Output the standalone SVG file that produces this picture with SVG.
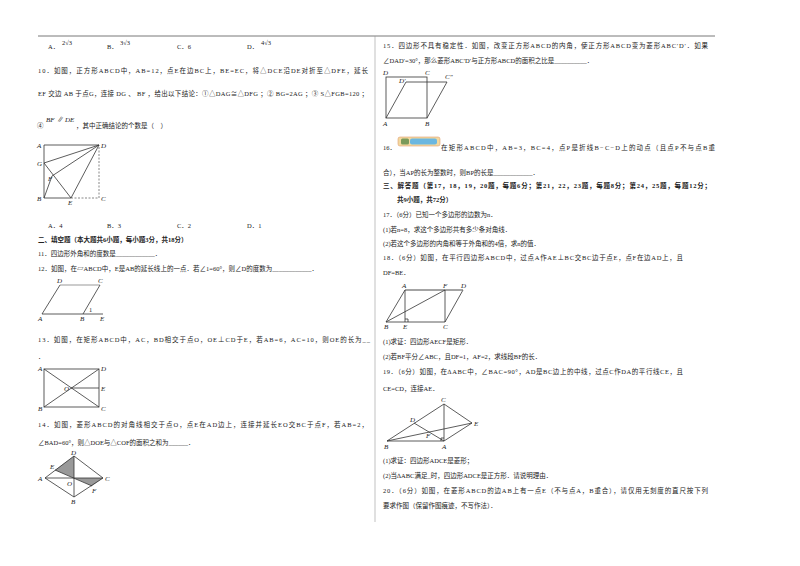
<svg xmlns="http://www.w3.org/2000/svg" width="800" height="566" viewBox="0 0 800 566">
<style>
text{font-family:"Liberation Serif","Noto Sans CJK SC",serif;font-size:6.5px;fill:#222}
.b{font-weight:bold}
.l{font-size:7px;font-style:italic}
.s{stroke:#333;stroke-width:0.8;fill:none}
.d{stroke:#555;stroke-width:0.7;fill:none;stroke-dasharray:2 1.5}
.g{stroke:#999;stroke-width:1.2;fill:none}
</style>
<rect width="800" height="566" fill="#fff"/>
<line x1="38" y1="36" x2="715" y2="36" stroke="#555" stroke-width="0.8"/>
<line x1="375" y1="36" x2="375" y2="522" stroke="#999" stroke-width="0.6"/>
<g id="left-text">
<text x="48" y="49">A．</text><text x="62" y="45">2√3</text>
<text x="107" y="49">B．</text><text x="120" y="45">3√3</text>
<text x="177" y="49">C．6</text>
<text x="247" y="49">D．</text><text x="261" y="45">4√3</text>
<text x="38" y="73" textLength="330">10．如图，正方形ABCD中，AB=12，点E在边BC上，BE=EC，将△DCE沿DE对折至△DFE，延长</text>
<text x="38" y="96" textLength="330">EF 交边 AB 于点G，连接 DG 、 BF ，给出以下结论：①△DAG≅△DFG ；② BG=2AG ；③ S△FGB=120 ；</text>
<text x="37" y="128">④</text><text x="46" y="122" class="l">BF ∥ DE</text><text x="76" y="128">，其中正确结论的个数是（　）</text>
<text x="48" y="228">A．4</text><text x="107" y="228">B．3</text><text x="177" y="228">C．2</text><text x="247" y="228">D．1</text>
<text x="38" y="242" class="b">二、填空题（本大题共6小题，每小题3分，共18分）</text>
<text x="38" y="256">11．四边形外角和的度数是____________．</text>
<text x="38" y="271" textLength="280">12．如图，在▱ABCD中，E是AB的延长线上的一点．若∠1=60°，则∠D的度数为____________．</text>
<text x="38" y="342" textLength="332">13．如图，在矩形ABCD中，AC，BD相交于点O，OE⊥CD于E，若AB=6，AC=10，则OE的长为__</text>
<text x="38" y="359">．</text>
<text x="38" y="427" textLength="330">14．如图，菱形ABCD的对角线相交于点O，点E在AD边上，连接并延长EO交BC于点F，若AB=2，</text>
<text x="38" y="445">∠BAD=60°，则△DOE与△COF的面积之和为______．</text>
</g>
<g id="fig10">
<polyline class="s" points="99,145 44,145 44,198 71,198"/>
<polyline class="d" points="71,198 99,198 99,145"/>
<line class="s" x1="99" y1="145" x2="44" y2="163"/>
<line class="s" x1="99" y1="145" x2="52" y2="176"/>
<line class="s" x1="99" y1="145" x2="71" y2="198"/>
<line class="s" x1="44" y1="163" x2="71" y2="198"/>
<line class="s" x1="44" y1="198" x2="52" y2="176"/>
<text class="l" x="37" y="148">A</text><text class="l" x="101" y="148">D</text><text class="l" x="37" y="166">G</text><text class="l" x="48" y="181">F</text><text class="l" x="37" y="201">B</text><text class="l" x="68" y="205">E</text><text class="l" x="101" y="201">C</text>
</g>
<g id="fig12">
<line class="g" x1="60" y1="285" x2="100" y2="285"/>
<line class="s" x1="60" y1="285" x2="42" y2="314"/>
<line class="s" x1="100" y1="285" x2="83" y2="314"/>
<line class="s" x1="42" y1="314" x2="103" y2="314"/>
<text class="l" x="57" y="283">D</text><text class="l" x="98" y="283">C</text><text class="l" x="38" y="321">A</text><text class="l" x="80" y="321">B</text><text class="l" x="100" y="321">E</text><text x="89" y="312">1</text>
</g>
<g id="fig13">
<rect class="s" x="44" y="369" width="55" height="38"/>
<line class="s" x1="44" y1="369" x2="99" y2="407"/><line class="s" x1="44" y1="407" x2="99" y2="369"/>
<line class="s" x1="71" y1="388" x2="99" y2="388"/>
<text class="l" x="38" y="371">A</text><text class="l" x="101" y="371">D</text><text class="l" x="64" y="391">O</text><text class="l" x="101" y="391">E</text><text class="l" x="38" y="411">B</text><text class="l" x="101" y="411">C</text>
</g>
<g id="fig14">
<polygon points="74,478 74,456 55,470" fill="#999"/>
<polygon points="74,478 103,478 92,486" fill="#999"/>
<polygon class="s" points="45,478 74,456 103,478 74,497"/>
<line class="s" x1="45" y1="478" x2="103" y2="478"/><line class="s" x1="74" y1="456" x2="74" y2="497"/>
<line class="s" x1="55" y1="470" x2="92" y2="486"/>
<text class="l" x="71" y="455">D</text><text class="l" x="50" y="469">E</text><text class="l" x="38" y="481">A</text><text class="l" x="67" y="486">O</text><text class="l" x="105" y="481">C</text><text class="l" x="92" y="493">F</text><text class="l" x="71" y="504">B</text>
</g>
<g id="right-text">
<text x="383" y="48" textLength="325">15．四边形不具有稳定性．如图，改变正方形ABCD的内角，使正方形ABCD变为菱形ABC′D′．如果</text>
<text x="383" y="63">∠DAD′=30°，那么菱形ABC′D′与正方形ABCD的面积之比是__________．</text>
<text x="383" y="150">16．</text>
<rect x="398" y="137" width="42" height="9" rx="2" fill="#f3d9a0" stroke="#e0a070" stroke-width="0.6"/>
<rect x="401" y="138.5" width="8" height="6" rx="1.5" fill="#7a9a5a"/>
<rect x="410" y="138.5" width="27" height="6" rx="2" fill="#6bb7e0"/>
<text x="441" y="150" textLength="274">在矩形ABCD中，AB=3，BC=4，点P是折线B−C−D上的动点（且点P不与点B重</text>
<text x="383" y="175">合），当AP的长为整数时，则BP的长是____________．</text>
<text x="383" y="188" class="b" textLength="328">三、解答题（第17，18，19，20题，每题6分；第21，22，23题，每题8分；第24，25题，每题12分；</text>
<text x="397" y="202" class="b">共9小题，共72分）</text>
<text x="383" y="217">17．（6分）已知一个多边形的边数为n．</text>
<text x="383" y="232">(1)若n=8，求这个多边形共有多少条对角线．</text>
<text x="383" y="246">(2)若这个多边形的内角和等于外角和的4倍，求n的值．</text>
<text x="383" y="260" textLength="300">18．（6分）如图，在平行四边形ABCD中，过点A作AE⊥BC交BC边于点E，点F在边AD上，且</text>
<text x="383" y="275">DF=BE．</text>
<text x="383" y="344">(1)求证：四边形AECF是矩形．</text>
<text x="383" y="359">(2)若BF平分∠ABC，且DF=1，AF=2，求线段BF的长．</text>
<text x="383" y="374" textLength="300">19．（6分）如图，在∆ABC中，∠BAC=90°，AD是BC边上的中线，过点C作DA的平行线CE，且</text>
<text x="383" y="391">CE=CD，连接AE．</text>
<text x="383" y="463">(1)求证：四边形ADCE是菱形；</text>
<text x="383" y="478">(2)当∆ABC满足_时，四边形ADCE是正方形．请说明理由．</text>
<text x="383" y="493" textLength="325">20．（6分）如图，在菱形ABCD的边AB上有一点E（不与点A，B重合），请仅用无刻度的直尺按下列</text>
<text x="383" y="508">要求作图（保留作图痕迹，不写作法）．</text>
</g>
<g id="fig15">
<rect class="s" x="386" y="77" width="41" height="41"/>
<polyline class="s" points="386,118 406,82 447,82 427,118"/>
<text class="l" x="383" y="75">D</text><text class="l" x="425" y="75">C</text><text class="l" x="399" y="83">D′</text><text class="l" x="445" y="79">C″</text><text class="l" x="383" y="126">A</text><text class="l" x="425" y="126">B</text>
</g>
<g id="fig18">
<polygon class="s" points="405,290 463,290 445,322 386,322"/>
<line class="g" x1="405" y1="290" x2="463" y2="290"/>
<line class="s" x1="405" y1="290" x2="405" y2="322"/><line class="s" x1="445" y1="290" x2="445" y2="322"/><line class="s" x1="386" y1="322" x2="445" y2="290"/>
<polyline class="s" points="405,319 408,319 408,322"/>
<text class="l" x="402" y="288">A</text><text class="l" x="443" y="288">F</text><text class="l" x="461" y="288">D</text><text class="l" x="384" y="329">B</text><text class="l" x="403" y="329">E</text><text class="l" x="443" y="329">C</text>
</g>
<g id="fig19">
<polyline class="s" points="387,441 444,404 472,423 444,441 387,441"/>
<line class="s" x1="444" y1="404" x2="444" y2="441"/><line class="s" x1="414" y1="423" x2="444" y2="441"/><line class="s" x1="387" y1="441" x2="472" y2="423"/>
<polyline class="s" points="441,441 441,438 444,438"/>
<text class="l" x="441" y="402">C</text><text class="l" x="410" y="422">D</text><text class="l" x="474" y="426">E</text><text class="l" x="426" y="438">F</text><text class="l" x="384" y="449">B</text><text class="l" x="442" y="449">A</text>
</g>
</svg>
